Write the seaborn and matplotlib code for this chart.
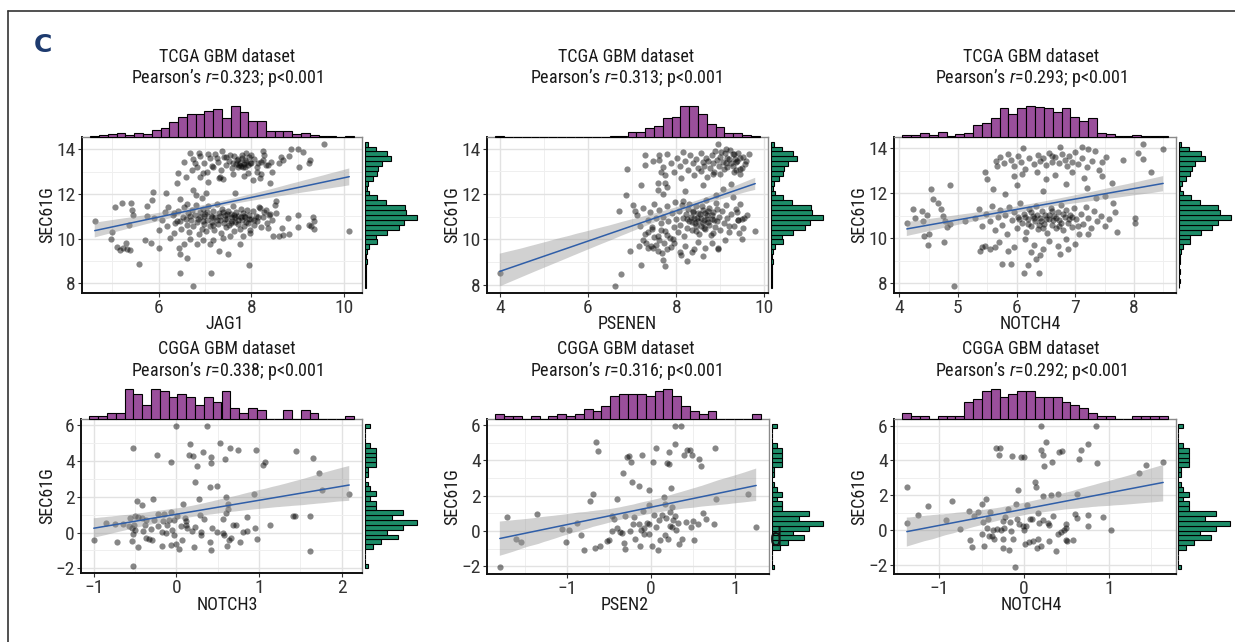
import numpy as np
import pandas as pd
import matplotlib
matplotlib.use("Agg")
import matplotlib.pyplot as plt
import seaborn as sns
from matplotlib import font_manager as fm
from matplotlib.lines import Line2D

# ------------------------------------------------------------------ data
titles_top = ["TCGA GBM dataset"] * 3
titles_bottom = ["CGGA GBM dataset"] * 3
r_values = ["0.323", "0.313", "0.293", "0.338", "0.316", "0.292"]
x_names = ["JAG1", "PSENEN", "NOTCH4", "NOTCH3", "PSEN2", "NOTCH4"]
y_name = "SEC61G"

xticks_p1 = [6, 8, 10]
xticks_p2 = [4, 6, 8, 10]
xticks_p3 = [4, 5, 6, 7, 8]
xticks_p4 = [-1, 0, 1, 2]
xticks_p5 = [-1, 0, 1]
xticks_p6 = [-1, 0, 1]
yticks_tcga = [8, 10, 12, 14]
yticks_cgga = [-2, 0, 2, 4, 6]

# TCGA  JAG1 vs SEC61G
p1_points = [
    (4.62, 10.81), (10.11, 10.33), (9.57, 14.24), (6.75, 7.88), (5.57, 8.87), (6.46, 8.44), (7.12, 8.44),
    (7.95, 8.80), (5.06, 11.40), (5.20, 11.62), (5.41, 11.62), (5.43, 11.30), (5.45, 11.04), (5.36, 10.63),
    (4.99, 10.29), (4.98, 10.00), (5.09, 9.63), (5.16, 9.51), (5.24, 9.59), (5.29, 9.81), (5.32, 9.54),
    (5.38, 9.47), (5.71, 9.96), (5.75, 11.47), (5.75, 11.00), (5.84, 9.81), (5.86, 11.74), (5.88, 12.11),
    (5.89, 10.92), (6.01, 10.40), (6.00, 9.59), (6.14, 11.18), (6.16, 12.04), (6.24, 10.03), (6.41, 12.93),
    (6.39, 12.48), (6.44, 9.59), (6.46, 9.29), (6.54, 13.45), (6.59, 12.78), (6.61, 9.14), (6.68, 13.82),
    (6.71, 13.08), (6.75, 12.19), (6.79, 13.38), (6.86, 13.82), (6.89, 12.78), (6.93, 11.82), (7.02, 12.04),
    (7.06, 13.79), (7.07, 12.56), (7.11, 9.74), (7.18, 13.23), (7.25, 13.60), (7.29, 9.44), (7.32, 12.78),
    (7.36, 13.94), (7.39, 12.66), (7.46, 13.67), (7.50, 9.29), (7.54, 13.75), (7.61, 13.38), (7.64, 12.04),
    (7.68, 13.52), (7.74, 13.30), (7.79, 13.75), (7.82, 13.23), (7.86, 13.52), (7.89, 13.82), (7.93, 12.93),
    (7.96, 13.38), (8.00, 13.75), (8.04, 12.63), (8.11, 13.00), (8.14, 13.38), (8.18, 12.71), (8.24, 13.94),
    (8.26, 13.52), (8.32, 13.30), (8.39, 12.48), (8.43, 13.45), (8.50, 11.52), (8.54, 11.67), (8.59, 13.38),
    (8.64, 13.67), (8.69, 13.52), (8.82, 13.70), (8.86, 14.04), (9.00, 14.01), (9.02, 13.23), (9.11, 13.90),
    (9.25, 13.38), (9.27, 13.52), (8.46, 10.14), (8.59, 10.14), (8.69, 10.18), (8.82, 10.23), (8.66, 10.48),
    (8.79, 10.92), (9.00, 11.07), (9.00, 10.51), (9.32, 10.95), (9.36, 10.77), (9.25, 10.63), (9.29, 10.55),
    (9.36, 10.43), (8.36, 10.48), (8.32, 11.30), (8.39, 11.12), (8.18, 11.37), (7.96, 10.26), (7.82, 10.11),
    (7.75, 9.74), (7.54, 10.11), (7.39, 10.03), (7.18, 9.96), (6.96, 9.96), (6.82, 9.74), (6.68, 9.99),
    (6.54, 9.74), (6.32, 10.26), (6.18, 10.55), (6.07, 10.85), (6.21, 11.44), (6.32, 11.15), (6.46, 11.77),
    (6.61, 11.56), (6.81, 11.96), (6.39, 10.78),
    (6.30, 11.05), (6.35, 10.70), (6.42, 11.25), (6.48, 10.45), (6.52, 10.95), (6.55, 11.40), (6.60, 10.60),
    (6.63, 11.15), (6.66, 10.30), (6.70, 10.85), (6.72, 11.30), (6.75, 10.55), (6.78, 11.05), (6.80, 11.50),
    (6.83, 10.75), (6.86, 10.20), (6.88, 11.20), (6.90, 10.95), (6.93, 10.45), (6.95, 11.35), (6.98, 10.65),
    (7.00, 11.10), (7.02, 10.35), (7.05, 10.85), (7.07, 11.45), (7.10, 10.55), (7.12, 11.00), (7.15, 10.75),
    (7.17, 11.25), (7.20, 10.40), (7.22, 10.95), (7.25, 11.55), (7.27, 10.65), (7.30, 11.15), (7.32, 10.85),
    (7.35, 10.25), (7.37, 11.35), (7.40, 10.70), (7.42, 11.05), (7.45, 10.50), (7.47, 10.90), (7.50, 11.25),
    (7.52, 10.60), (7.55, 11.10), (7.57, 10.80), (7.60, 11.45), (7.62, 10.35), (7.65, 10.95), (7.67, 11.20),
    (7.70, 10.65), (7.72, 11.00), (7.75, 10.45), (7.77, 11.35), (7.80, 10.85), (7.82, 11.15), (7.85, 10.55),
    (7.87, 10.95), (7.90, 11.30), (7.92, 10.70), (7.95, 11.05), (7.97, 10.40), (8.00, 10.90), (8.03, 11.25),
    (8.06, 10.60), (8.10, 11.00), (8.13, 10.80), (8.16, 11.40), (8.20, 10.50), (8.24, 10.95), (8.28, 11.20),
    (8.33, 10.70), (8.38, 11.05), (8.45, 10.85), (8.52, 11.15),
    (6.45, 10.80), (6.58, 10.90), (6.68, 11.00), (6.85, 10.90), (6.95, 10.80), (7.05, 11.20), (7.15, 10.95),
    (7.25, 10.85), (7.32, 11.00), (7.42, 10.90), (7.48, 11.10), (7.58, 10.95), (7.65, 10.75), (7.72, 10.85),
    (7.78, 10.95), (7.88, 10.75), (7.95, 10.90), (8.05, 10.85), (8.15, 10.95), (7.38, 11.20), (7.55, 10.70),
    (7.18, 10.60), (7.62, 11.05), (6.98, 11.00), (7.85, 11.00),
    (6.75, 13.55), (6.82, 13.20), (6.90, 13.70), (6.98, 13.40), (7.05, 13.00), (7.10, 13.60), (7.15, 13.25),
    (7.22, 13.80), (7.28, 13.45), (7.35, 13.10), (7.40, 13.65), (7.45, 13.30), (7.52, 13.50), (7.58, 13.15),
    (7.62, 13.70), (7.66, 13.35), (7.70, 13.20), (7.72, 13.55), (7.75, 13.40), (7.78, 13.25), (7.80, 13.60),
    (7.83, 13.35), (7.86, 13.20), (7.88, 13.45), (7.92, 13.30), (7.95, 13.65), (8.00, 13.40), (8.05, 13.55),
    (8.12, 13.20), (8.20, 13.45), (8.28, 13.75), (8.35, 13.30), (7.60, 12.90), (7.85, 12.80), (8.20, 12.90),
    (6.95, 12.95), (7.30, 12.70), (8.45, 13.00),
]

# TCGA  PSENEN vs SEC61G
p2_points = [
    (4.00, 8.50), (6.61, 7.94), (6.74, 8.47), (6.85, 11.95), (6.89, 13.09), (6.71, 11.24), (7.02, 11.50),
    (6.96, 9.50), (7.06, 11.23), (7.16, 9.68), (7.21, 8.88), (7.20, 12.38), (7.30, 13.70), (7.30, 13.29),
    (7.47, 13.47), (7.62, 13.70), (7.66, 12.98), (7.59, 12.48), (7.59, 12.18), (7.74, 12.48), (7.71, 11.98),
    (7.68, 9.38), (7.70, 9.08), (7.74, 8.80), (7.47, 9.61), (7.32, 9.83), (8.08, 9.45), (8.41, 9.56),
    (8.94, 9.61), (8.94, 14.20), (9.13, 14.00), (9.28, 13.77), (9.35, 13.39), (9.44, 13.09), (9.44, 12.86),
    (9.28, 11.88), (9.37, 11.20), (9.41, 10.86), (9.50, 10.89), (9.53, 10.92), (9.50, 10.00), (9.43, 10.29),
    (9.79, 10.36), (8.84, 12.86), (9.20, 10.59), (8.83, 10.29),
    (7.10, 11.05), (7.18, 10.60), (7.25, 11.40), (7.30, 10.25), (7.35, 10.85), (7.40, 11.20), (7.45, 10.45),
    (7.50, 11.55), (7.55, 10.95), (7.58, 10.15), (7.62, 11.30), (7.66, 10.70), (7.70, 11.00), (7.74, 10.35),
    (7.78, 11.45), (7.82, 10.80), (7.86, 10.05), (7.90, 11.15), (7.94, 10.55), (7.97, 11.65), (8.00, 10.90),
    (8.03, 10.30), (8.06, 11.25), (8.09, 10.65), (8.12, 11.50), (8.15, 10.95), (8.18, 10.15), (8.21, 11.10),
    (8.24, 10.50), (8.27, 11.35), (8.30, 10.80), (8.33, 11.00), (8.36, 10.40), (8.39, 11.20), (8.42, 10.70),
    (8.45, 11.45), (8.48, 10.95), (8.51, 10.25), (8.54, 11.10), (8.57, 10.60), (8.60, 11.30), (8.63, 10.85),
    (8.66, 10.45), (8.69, 11.05), (8.72, 10.75), (8.75, 11.40), (8.78, 10.20), (8.81, 10.90), (8.84, 11.20),
    (8.87, 10.55), (8.90, 11.60), (8.93, 10.80), (8.96, 11.00), (9.00, 10.40), (9.04, 11.25), (9.08, 10.70),
    (9.12, 11.50), (9.16, 10.95), (9.20, 10.30), (9.25, 11.10), (9.30, 10.60), (9.35, 11.35), (9.40, 10.85),
    (9.45, 11.55), (9.52, 10.50), (9.60, 11.05),
    (8.25, 10.90), (8.35, 10.75), (8.40, 10.95), (8.45, 10.60), (8.50, 10.80), (8.55, 10.95), (8.60, 10.70),
    (8.65, 11.15), (8.70, 10.90), (8.75, 10.65), (8.80, 11.05), (8.85, 10.85), (8.50, 11.15), (8.38, 11.25),
    (8.62, 10.50), (8.44, 10.35), (8.72, 11.25), (8.58, 11.45), (8.30, 11.55), (8.92, 11.35), (8.15, 11.70),
    (8.68, 11.75),
    (7.55, 9.75), (7.80, 9.55), (7.95, 9.85), (8.20, 9.70), (8.35, 9.45), (8.50, 9.90), (8.65, 9.60),
    (8.80, 9.85), (8.95, 9.55), (9.10, 9.95), (7.35, 9.60), (8.10, 9.30), (8.60, 9.25), (8.25, 9.05),
    (7.25, 9.95), (7.35, 10.30), (7.42, 9.70), (7.50, 10.10), (7.58, 9.50), (7.65, 10.40), (7.72, 9.85),
    (7.80, 10.20), (7.88, 9.65), (7.45, 10.55), (7.62, 9.95), (7.92, 10.00),
    (7.60, 13.50), (7.70, 13.20), (7.80, 13.75), (7.88, 13.35), (7.95, 12.95), (8.02, 13.60), (8.08, 13.25),
    (8.15, 13.85), (8.20, 13.45), (8.26, 13.05), (8.32, 13.70), (8.38, 13.35), (8.44, 13.55), (8.50, 13.15),
    (8.55, 13.80), (8.60, 13.40), (8.64, 13.25), (8.68, 13.60), (8.72, 13.45), (8.76, 13.15), (8.80, 13.70),
    (8.84, 13.35), (8.88, 13.90), (8.92, 13.50), (8.96, 13.25), (9.00, 13.65), (9.05, 13.40), (9.10, 13.80),
    (9.15, 13.20), (9.20, 13.55), (9.25, 13.35), (9.30, 13.75), (9.38, 13.45), (9.45, 13.60), (9.55, 13.30),
    (9.02, 13.85), (9.08, 13.10), (9.15, 13.60), (9.22, 13.95), (9.28, 13.25), (9.33, 13.55), (9.40, 13.80),
    (9.48, 13.15), (9.52, 13.65), (9.58, 13.45), (9.65, 13.75), (9.12, 13.35), (9.36, 13.05),
    (8.40, 12.85), (8.70, 12.75), (9.00, 12.90), (8.10, 12.70), (9.30, 12.95), (8.55, 13.00), (8.85, 12.95),
    (7.75, 12.85), (7.80, 12.30), (8.20, 12.15), (8.60, 12.40), (9.05, 12.20), (9.25, 12.45), (8.90, 11.95),
]

# TCGA  NOTCH4 vs SEC61G
p3_points = [
    (4.13, 10.70), (4.24, 11.30), (4.27, 10.88), (4.39, 11.22), (4.41, 10.78), (4.43, 10.08), (4.49, 9.69),
    (4.47, 11.03), (4.51, 10.18), (4.54, 12.19), (4.57, 11.74), (4.67, 11.59), (4.71, 11.30), (4.75, 10.97),
    (4.78, 10.78), (4.77, 9.84), (4.81, 10.48), (4.86, 12.37), (4.87, 10.63), (4.94, 7.88), (5.12, 10.78),
    (5.46, 12.93), (5.50, 12.63), (5.65, 13.45), (5.66, 13.20), (5.41, 9.59), (5.38, 9.44), (5.46, 9.66),
    (5.55, 9.51), (5.63, 9.59), (5.75, 8.84), (5.91, 8.84), (6.12, 8.44), (6.38, 8.44), (6.19, 8.80),
    (6.34, 9.07), (6.11, 14.01), (6.60, 13.67), (6.74, 14.04), (7.11, 14.04), (7.22, 13.97), (7.34, 13.90),
    (7.53, 13.60), (7.82, 13.49), (8.07, 13.79), (8.16, 14.19), (8.15, 13.52), (8.30, 12.93), (8.50, 13.97),
    (7.21, 10.21), (7.71, 10.26), (8.02, 10.88), (8.02, 10.70), (7.65, 11.59), (7.68, 11.15), (7.51, 11.89),
    (7.45, 12.78), (7.62, 12.48), (6.74, 9.29), (6.88, 9.51),
    (5.30, 10.90), (5.36, 11.30), (5.42, 10.55), (5.48, 11.10), (5.54, 10.75), (5.58, 11.45), (5.63, 10.35),
    (5.68, 10.95), (5.72, 11.25), (5.76, 10.60), (5.80, 11.05), (5.84, 10.20), (5.88, 11.40), (5.92, 10.80),
    (5.96, 11.15), (6.00, 10.45), (6.03, 10.95), (6.06, 11.55), (6.10, 10.70), (6.13, 11.10), (6.16, 10.30),
    (6.19, 10.85), (6.22, 11.30), (6.25, 10.55), (6.28, 11.00), (6.31, 10.75), (6.34, 11.45), (6.37, 10.40),
    (6.40, 10.90), (6.43, 11.20), (6.46, 10.65), (6.49, 11.05), (6.52, 10.25), (6.55, 10.85), (6.58, 11.35),
    (6.61, 10.60), (6.64, 11.00), (6.67, 10.45), (6.70, 11.15), (6.73, 10.80), (6.76, 11.50), (6.79, 10.35),
    (6.82, 10.95), (6.85, 11.25), (6.88, 10.70), (6.91, 11.05), (6.94, 10.50), (6.98, 11.35), (7.02, 10.85),
    (7.06, 10.20), (7.10, 11.10), (7.14, 10.65), (7.18, 11.40), (7.22, 10.90), (7.27, 10.45), (7.32, 11.20),
    (7.38, 10.75), (7.44, 11.00), (7.50, 10.55), (7.58, 10.85),
    (6.05, 10.85), (6.15, 10.95), (6.20, 10.65), (6.30, 10.90), (6.35, 11.05), (6.42, 10.75), (6.50, 10.85),
    (6.55, 11.05), (6.62, 10.80), (6.68, 10.90), (6.75, 10.70), (6.80, 11.10), (6.90, 10.85), (6.45, 10.45),
    (6.25, 11.15), (6.60, 11.20), (6.38, 10.60), (6.72, 10.55), (6.95, 10.95), (7.05, 10.55),
    (5.70, 9.85), (5.95, 9.60), (6.15, 9.95), (6.30, 9.70), (6.45, 9.50), (6.55, 9.90), (6.70, 9.65),
    (6.85, 9.95), (7.00, 9.75), (6.40, 9.25), (6.25, 9.40), (5.85, 9.45),
    (5.72, 13.60), (5.78, 13.35), (5.85, 13.75), (5.90, 13.50), (5.96, 13.20), (6.02, 13.65), (6.08, 13.40),
    (6.15, 13.10), (6.22, 13.55), (6.30, 13.30), (6.36, 13.70), (6.40, 13.45), (6.45, 13.55), (6.50, 13.25),
    (6.55, 13.80), (6.60, 13.40), (6.66, 13.60), (6.72, 13.35), (6.78, 13.75), (6.82, 13.50), (6.86, 13.20),
    (6.90, 13.65), (6.95, 13.40), (7.00, 13.85), (7.05, 13.30), (7.12, 13.55), (7.20, 13.15), (7.28, 13.45),
    (6.10, 12.85), (6.35, 12.95), (6.65, 12.80), (6.95, 12.95), (7.15, 12.70), (5.95, 12.75), (6.50, 12.65),
    (7.40, 13.05), (7.45, 13.40),
    (5.60, 12.20), (6.00, 12.35), (6.45, 12.10), (6.85, 12.40), (7.20, 12.25), (7.35, 11.80), (5.80, 11.95),
]

# CGGA  NOTCH3 vs SEC61G
p4_points = [
    (-0.004, 5.97), (0.37, 5.97), (0.53, 5.04), (0.17, 4.95), (-0.52, 4.74), (0.65, 4.72), (0.74, 4.64),
    (0.96, 4.61), (1.45, 4.57), (0.32, 4.49), (-0.23, 4.34), (0.15, 4.34), (0.20, 4.30), (0.42, 4.25),
    (0.59, 4.11), (1.65, 4.17), (-0.06, 3.98), (1.07, 3.96), (0.42, 3.89), (1.05, 3.81), (0.25, 3.73),
    (1.72, 3.36), (0.22, 2.82), (0.40, 2.56), (0.49, 2.60), (1.76, 2.39), (0.94, 2.14), (2.09, 2.14),
    (0.60, 2.01), (0.27, 1.90), (-0.28, 1.86), (-0.48, 1.76), (-0.42, 1.54), (0.08, 1.61), (0.62, 1.61),
    (0.62, 1.35), (0.60, 1.10), (0.29, 1.00), (-0.15, 1.04), (-0.22, 1.04), (-0.07, 1.14), (-0.50, 0.91),
    (-0.47, 0.89), (-0.56, 0.82), (-0.42, 0.83), (0.85, 0.89), (1.41, 0.93), (1.44, 0.93), (1.62, 0.93),
    (0.01, 0.91), (0.10, 0.82), (0.11, 0.66), (-0.03, 0.68), (-0.37, 0.68), (-0.27, 0.72), (-0.16, 0.63),
    (-0.09, 0.68), (-0.85, 0.53), (-0.74, 0.49), (-0.65, 0.49), (-0.57, 0.36), (-0.54, 0.28), (-0.51, 0.45),
    (-0.38, 0.44), (-0.22, 0.38), (-0.12, 0.40), (0.11, 0.45), (0.23, 0.32), (0.33, 0.78), (0.56, 0.76),
    (0.68, 0.45), (0.72, 0.45), (0.43, 0.27), (0.95, 0.28), (1.13, 0.40), (0.13, 0.28), (0.06, 0.36),
    (-0.05, 0.15), (-0.50, 0.15), (-0.40, 0.09), (-0.31, 0.21), (-0.18, 0.02), (-0.13, -0.04), (-0.03, -0.13),
    (0.19, 0.09), (0.30, 0.04), (0.49, 0.04), (0.56, -0.04), (0.80, 0.06), (0.85, 0.11), (0.30, -0.13),
    (0.57, -0.15), (-0.52, -0.06), (-0.37, -0.32), (-0.33, -0.38), (-0.29, -0.44), (-1.00, -0.42),
    (-0.72, -0.53), (-0.54, -0.49), (0.07, -0.42), (0.40, -0.55), (0.66, -0.32), (0.64, -0.42), (0.77, -0.51),
    (0.98, -0.34), (-0.18, -0.74), (-0.06, -0.70), (0.00, -0.66), (0.03, -0.89), (-0.46, -0.83), (0.21, -0.80),
    (0.61, -0.76), (0.42, -1.00), (1.61, -1.02), (-0.52, -1.87),
]

# CGGA  PSEN2 vs SEC61G
p5_points = [
    (-1.80, -2.03), (-1.71, 0.79), (-1.61, -0.43), (-1.55, -0.62), (-1.36, 0.96), (-1.06, 0.11), (-0.98, 0.04),
    (-1.01, -0.60), (-0.88, 0.45), (-0.84, -0.21), (-0.80, -1.09), (-0.73, 1.69), (-0.69, 2.07), (-0.67, -0.94),
    (-0.61, -0.83), (-0.65, 5.01), (-0.63, 4.52), (-0.53, -0.58), (-0.50, -0.53), (-0.47, 0.85), (-0.46, -0.02),
    (-0.44, 0.70), (-0.41, 1.79), (-0.41, 0.19), (-0.37, -0.06), (-0.35, -0.09), (-0.34, 3.30), (-0.32, -0.68),
    (-0.31, -1.00), (-0.31, 0.85), (-0.29, 4.16), (-0.26, 4.22), (-0.25, 0.00), (-0.24, 3.92), (-0.23, 2.75),
    (-0.21, 0.38), (-0.19, -0.43), (-0.20, 0.79), (-0.15, 2.52), (-0.14, 0.41), (-0.13, -0.87), (-0.12, 0.06),
    (-0.11, 4.27), (-0.10, 1.13), (-0.08, 0.19), (-0.08, -0.15), (-0.05, 0.45), (-0.03, 0.38), (-0.02, 1.47),
    (-0.03, 2.32), (-0.03, -0.15), (0.01, -0.85), (0.02, 3.92), (0.04, 0.89), (0.06, 4.71), (0.06, 0.23),
    (0.08, -1.09), (0.09, 0.60), (0.10, -0.53), (0.13, 0.90), (0.15, 1.92), (0.16, 1.54), (0.17, -0.23),
    (0.18, 0.75), (0.19, 3.84), (0.20, -0.43), (0.21, 3.77), (0.21, 4.46), (0.22, 1.07), (0.23, 0.26),
    (0.24, 2.45), (0.25, 1.36), (0.25, 0.23), (0.26, 0.60), (0.28, 0.83), (0.29, 5.93), (0.29, 4.93),
    (0.30, 0.04), (0.32, 0.45), (0.33, -0.75), (0.36, 5.93), (0.37, -0.47), (0.39, 4.27), (0.41, 0.49),
    (0.43, 4.60), (0.46, 4.60), (0.47, 0.23), (0.49, 4.31), (0.50, 0.55), (0.51, -0.49), (0.56, 0.38),
    (0.57, 4.05), (0.59, 3.69), (0.62, 1.04), (0.65, 0.66), (0.75, 0.41), (0.76, 4.69), (0.77, 1.83),
    (1.15, 2.07), (1.25, 0.23),
]

# CGGA  NOTCH4 vs SEC61G
p6_points = [
    (-1.38, 2.47), (-1.38, 0.40), (-1.25, 0.87), (-1.13, 1.36), (-0.92, 0.56), (-0.85, 1.69), (-0.75, 0.09),
    (-0.65, 1.09), (-0.64, -0.55), (-0.61, -0.94), (-0.59, 0.81), (-0.54, 1.05), (-0.50, 1.51), (-0.49, -0.23),
    (-0.48, 0.47), (-0.47, -0.89), (-0.45, 1.81), (-0.44, 0.15), (-0.42, 0.62), (-0.41, -0.32), (-0.40, 1.04),
    (-0.38, -0.36), (-0.36, 0.02), (-0.35, -0.51), (-0.33, 4.73), (-0.32, 0.04), (-0.29, 4.31), (-0.28, 4.71),
    (-0.27, 0.00), (-0.25, 0.53), (-0.25, -0.51), (-0.25, -1.00), (-0.24, 0.15), (-0.22, 0.75), (-0.19, 1.19),
    (-0.18, -1.13), (-0.16, 0.47), (-0.15, -0.06), (-0.14, 4.27), (-0.13, -0.51), (-0.11, -2.11), (-0.09, 1.51),
    (-0.08, 0.62), (-0.07, 2.32), (-0.06, 0.34), (-0.03, 4.20), (-0.01, 0.24), (0.00, 4.20), (0.00, 0.00),
    (0.01, -0.81), (0.02, 0.21), (0.04, 1.45), (0.06, -0.70), (0.07, 0.66), (0.10, 0.62), (0.11, -0.60),
    (0.13, 2.75), (0.14, 2.50), (0.15, -1.00), (0.16, 1.00), (0.16, -0.51), (0.18, 0.40), (0.20, -0.89),
    (0.20, 4.58), (0.22, 0.58), (0.22, 4.33), (0.22, 1.94), (0.24, 3.69), (0.26, 5.03), (0.28, 0.40),
    (0.29, -0.60), (0.30, 0.32), (0.32, 2.03), (0.33, 3.92), (0.34, 0.81), (0.38, -1.17), (0.40, 2.07),
    (0.40, -0.23), (0.41, 4.48), (0.44, -0.13), (0.45, 4.54), (0.47, 0.02), (0.49, 0.15), (0.50, 0.34),
    (0.50, -0.55), (0.51, -0.64), (0.58, -0.55), (0.60, 0.90), (0.63, 2.07), (0.62, 0.72), (0.65, 4.07),
    (0.67, 4.61), (0.75, 4.93), (0.76, 0.85), (0.76, 0.24), (0.86, 3.86), (0.85, 5.97), (0.93, 0.77),
    (1.03, 0.02), (0.20, 5.97), (1.35, 3.30), (1.44, 3.75), (1.64, 3.92),
]

# marginal histogram bar heights (30 bins each, low -> high)
p1_xhist = [1, 2, 4, 6, 3, 6, 4, 11, 14, 23, 32, 37, 37, 42, 45, 31, 50, 40, 26, 26, 9, 9, 9, 4, 6, 2, 1, 1, 0, 1]
p2_xhist = [1, 0, 0, 0, 0, 0, 0, 0, 0, 0, 0, 0, 0, 1, 1, 7, 7, 14, 17, 30, 31, 49, 49, 36, 20, 16, 5, 6, 2, 1]
p3_xhist = [2, 2, 6, 2, 8, 1, 4, 6, 18, 21, 30, 46, 36, 46, 49, 47, 46, 40, 46, 31, 25, 29, 6, 4, 1, 1, 2, 1, 1, 1]
p4_xhist = [1, 1, 2, 2, 11, 9, 5, 11, 10, 8, 9, 8, 5, 8, 6, 10, 4, 2, 4, 3, 0, 0, 3, 0, 3, 2, 0, 0, 0, 1]
p5_xhist = [2, 1, 1, 0, 1, 0, 1, 2, 1, 2, 4, 3, 5, 9, 10, 10, 10, 9, 11, 12, 9, 5, 3, 2, 3, 0, 0, 0, 0, 2]
p6_xhist = [2, 1, 1, 0, 1, 1, 1, 6, 7, 10, 11, 8, 9, 10, 10, 8, 8, 8, 6, 5, 4, 2, 1, 1, 0, 0, 1, 1, 1, 1]
tcga_yhist = [2, 3, 2, 4, 2, 5, 3, 7, 13, 35, 33, 65, 100, 117, 155, 123, 118, 63, 37, 13,
              5, 10, 23, 35, 40, 50, 77, 65, 32, 8]
cgga_yhist = [1, 0, 0, 0, 3, 6, 12, 8, 14, 19, 10, 14, 4, 4, 2, 4, 2, 1, 0, 1,
              1, 4, 4, 4, 4, 2, 0, 0, 0, 2]

# ------------------------------------------------------------------ style
sns.set_theme(style="white")
available = {f.name for f in fm.fontManager.ttflist}
FAM = next((f for f in ["Liberation Sans Narrow", "Roboto Condensed", "Open Sans Condensed",
                        "Liberation Sans"] if f in available), "DejaVu Sans")
plt.rcParams["font.family"] = [FAM, "DejaVu Sans"]
plt.rcParams["mathtext.fontset"] = "custom"
plt.rcParams["mathtext.it"] = FAM + ":italic"
plt.rcParams["mathtext.rm"] = FAM

PURPLE = "#9a4f9b"
GREEN = "#1d8c68"
LINE = "#2f5ea8"
TXT = "#1a1a1a"

W, H = 1235, 642
fig = plt.figure(figsize=(W / 100, H / 100), dpi=100)
fig.patch.set_facecolor("white")


def rect(l, t, r, b):
    return [l / W, 1 - b / H, (r - l) / W, (b - t) / H]


panels = [
    dict(pts=p1_points, xt=xticks_p1, yt=yticks_tcga, xh=p1_xhist, yh=tcga_yhist, box=(82, 137, 362, 293),
         top=(106, 136.5), rh=(365, 417), cx=227, tty=(57, 78), xl=(225, 324), yl=47, ci=85),
    dict(pts=p2_points, xt=xticks_p2, yt=yticks_tcga, xh=p2_xhist, yh=tcga_yhist, box=(487, 137, 768, 293),
         top=(106, 136.5), rh=(771, 823), cx=626, tty=(57, 78), xl=(627, 324), yl=452, ci=85),
    dict(pts=p3_points, xt=xticks_p3, yt=yticks_tcga, xh=p3_xhist, yh=tcga_yhist, box=(894, 137, 1176, 293),
         top=(106, 136.5), rh=(1178.5, 1231), cx=1031, tty=(57, 78), xl=(1030, 324), yl=859, ci=85),
    dict(pts=p4_points, xt=xticks_p4, yt=yticks_cgga, xh=p4_xhist, yh=cgga_yhist, box=(81, 419, 362, 573),
         top=(388.5, 418.5), rh=(365, 417), cx=227, tty=(349, 371), xl=(227, 605), yl=47, ci=95),
    dict(pts=p5_points, xt=xticks_p5, yt=yticks_cgga, xh=p5_xhist, yh=cgga_yhist, box=(487, 419, 769, 574),
         top=(388.5, 418.5), rh=(771.5, 823), cx=626, tty=(349, 371), xl=(625, 605), yl=452, ci=95),
    dict(pts=p6_points, xt=xticks_p6, yt=yticks_cgga, xh=p6_xhist, yh=cgga_yhist, box=(894, 419, 1176, 574),
         top=(388.5, 418.5), rh=(1178, 1230), cx=1031, tty=(349, 371), xl=(1031, 605), yl=859, ci=95),
]
titles = titles_top + titles_bottom


def hist_frame(vals, counts, nb=30):
    lo, hi = float(np.min(vals)), float(np.max(vals))
    w = (hi - lo) / (nb - 1)
    edges = lo - w / 2 + w * np.arange(nb + 1)
    centers = edges[:-1] + w / 2
    df = pd.DataFrame({"c": centers, "w": np.asarray(counts, dtype=float)})
    return df, [float(e) for e in edges]


for i, p in enumerate(panels):
    xs = np.array([q[0] for q in p["pts"]])
    ys = np.array([q[1] for q in p["pts"]])
    l, t, r, b = p["box"]
    ax = fig.add_axes(rect(l, t, r, b))
    ax.set_facecolor("white")
    sns.regplot(x=xs, y=ys, ax=ax, ci=p["ci"], seed=3, truncate=True,
                scatter_kws=dict(s=20, color="black", alpha=0.47, linewidths=0),
                line_kws=dict(color=LINE, lw=1.1))
    for coll in ax.collections[1:]:
        coll.set_facecolor("#9a9a9a")
        coll.set_alpha(0.45)
        coll.set_edgecolor("none")

    xr = xs.max() - xs.min()
    yr = ys.max() - ys.min()
    xlim = (xs.min() - 0.05 * xr, xs.max() + 0.05 * xr)
    ylim = (ys.min() - 0.05 * yr, ys.max() + 0.05 * yr)

    ax.set_xticks(p["xt"])
    ax.set_xticklabels([str(v).replace("-", "\u2212") for v in p["xt"]])
    ax.set_yticks(p["yt"])
    ax.set_yticklabels([str(v).replace("-", "\u2212") for v in p["yt"]])
    dx = p["xt"][1] - p["xt"][0]
    dy = p["yt"][1] - p["yt"][0]
    ax.set_xticks([v - dx / 2 for v in p["xt"]] + [p["xt"][-1] + dx / 2], minor=True)
    ax.set_yticks([v - dy / 2 for v in p["yt"]] + [p["yt"][-1] + dy / 2], minor=True)
    ax.set_axisbelow(True)
    ax.grid(True, which="major", color="#e2e2e2", lw=1.0)
    ax.grid(True, which="minor", color="#efefef", lw=0.7)
    ax.tick_params(which="major", length=3, width=0.8, color="#333333", pad=1.5,
                   labelsize=14, labelcolor="#333333", bottom=True, left=True)
    ax.tick_params(which="minor", length=0)
    ax.set_xlabel("")
    ax.set_ylabel("")
    for side in ["left", "bottom"]:
        ax.spines[side].set_color("#111111")
        ax.spines[side].set_linewidth(1.4)
    for side in ["top", "right"]:
        ax.spines[side].set_color("#8a8a8a")
        ax.spines[side].set_linewidth(1.0)

    # top marginal histogram
    tt, tb = p["top"]
    axt = fig.add_axes(rect(l, tt, r, tb))
    dfx, ex = hist_frame(xs, p["xh"])
    sns.histplot(data=dfx, x="c", weights="w", bins=ex, ax=axt, color=PURPLE, alpha=1,
                 edgecolor="black", linewidth=0.8)
    axt.set_xlim(xlim)
    axt.set_ylim(0, max(p["xh"]))
    axt.axis("off")
    for patch in axt.patches:
        patch.set_clip_on(False)

    # right marginal histogram
    rl, rr = p["rh"]
    axr = fig.add_axes(rect(rl, t, rr, b))
    dfy, ey = hist_frame(ys, p["yh"])
    sns.histplot(data=dfy, y="c", weights="w", bins=ey, ax=axr, color=GREEN, alpha=1,
                 edgecolor="black", linewidth=0.8)
    axr.set_ylim(ylim)
    axr.set_xlim(0, max(p["yh"]))
    axr.axis("off")
    for patch in axr.patches:
        patch.set_clip_on(False)

    ax.set_xlim(xlim)
    ax.set_ylim(ylim)

    # titles and axis labels
    fig.text(p["cx"] / W, 1 - p["tty"][0] / H, titles[i], ha="center", va="center",
             fontsize=13, color=TXT)
    fig.text(p["cx"] / W, 1 - p["tty"][1] / H,
             "Pearson\u2019s $r$=" + r_values[i] + "; p<0.001", ha="center", va="center",
             fontsize=13, color=TXT)
    fig.text(p["xl"][0] / W, 1 - p["xl"][1] / H, x_names[i], ha="center", va="center",
             fontsize=13, color=TXT)
    fig.text(p["yl"] / W, 1 - ((t + b) / 2) / H, y_name, ha="center", va="center",
             rotation=90, fontsize=13, color=TXT)

# frame, panel letter and stray letter
fig.add_artist(Line2D([8 / W, 1.0], [1 - 11 / H, 1 - 11 / H], transform=fig.transFigure,
                      color="#333333", lw=1.2))
fig.add_artist(Line2D([8 / W, 8 / W], [1 - 11 / H, 0.0], transform=fig.transFigure,
                      color="#333333", lw=1.2))
fig.text(43 / W, 1 - 45 / H, "C", ha="center", va="center", fontsize=18, fontweight="bold",
         color="#1d3a6e", family=["DejaVu Sans"])
fig.text(776 / W, 1 - 539 / H, "d", ha="center", va="center", fontsize=18, color="#111111")

fig.savefig("out.png", dpi=100, facecolor="white")
